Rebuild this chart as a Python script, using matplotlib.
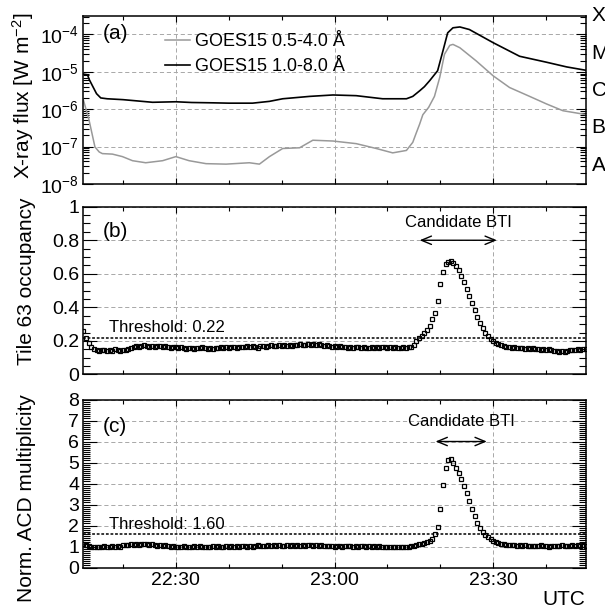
import numpy as np
import matplotlib
matplotlib.use("Agg")
import matplotlib.pyplot as plt
from matplotlib.ticker import (MultipleLocator, LogLocator, FuncFormatter,
                               LogFormatterSciNotation, NullFormatter)
from matplotlib.transforms import blended_transform_factory

plt.rcParams['font.family'] = ['Liberation Sans', 'DejaVu Sans']
plt.rcParams['mathtext.default'] = 'regular'
plt.rcParams['lines.scale_dashes'] = False

# all times in minutes after 22:00 UTC
T_MIN, T_MAX = 12.5, 107.5

# GOES15 1.0-8.0 A channel [W m^-2]
goes_long_t = [12.5, 13.3, 13.6, 14.2, 15.0, 15.8, 17.0, 20.0, 25.6, 30.0,
               33.0, 37.0, 40.0, 44.5, 47.7, 50.2, 55.3, 59.7, 64.1, 69.1,
               73.6, 74.8, 76.1, 77.0, 78.0, 79.5, 80.5, 81.4, 82.4, 83.7,
               85.5, 90.0, 95.0, 100.1, 103.9, 107.5]
goes_long = [8.7e-6, 8.3e-6, 6.3e-6, 4.3e-6, 2.6e-6, 2.0e-6, 1.9e-6, 1.8e-6, 1.53e-6, 1.58e-6,
             1.51e-6, 1.48e-6, 1.45e-6, 1.45e-6, 1.62e-6, 1.9e-6, 2.2e-6, 2.4e-6, 2.3e-6, 1.9e-6,
             1.9e-6, 2.2e-6, 3.1e-6, 4.0e-6, 5.8e-6, 1.07e-5, 3.6e-5, 1.1e-4, 1.5e-4, 1.58e-4,
             1.35e-4, 6.0e-5, 2.6e-5, 1.8e-5, 1.35e-5, 1.1e-5]

# GOES15 0.5-4.0 A channel [W m^-2]
goes_short_t = [12.5, 13.6, 14.7, 15.5, 16.1, 18.0, 19.9, 21.8, 24.3, 27.5,
                30.0, 32.5, 35.7, 39.5, 43.9, 45.8, 47.7, 50.2, 53.4, 55.9,
                59.7, 64.1, 67.9, 71.0, 73.6, 74.8, 75.4, 76.1, 76.7, 77.8,
                78.9, 79.9, 80.8, 81.8, 82.4, 83.7, 86.8, 90.0, 93.1, 96.9,
                100.1, 103.2, 107.5]
goes_short = [1.8e-6, 5.0e-7, 9.8e-8, 7.2e-8, 6.5e-8, 6.3e-8, 5.4e-8, 4.2e-8, 3.7e-8, 4.2e-8,
              5.4e-8, 4.2e-8, 3.5e-8, 3.4e-8, 3.7e-8, 3.4e-8, 5.4e-8, 8.9e-8, 9.3e-8, 1.48e-7,
              1.41e-7, 1.2e-7, 8.9e-8, 6.8e-8, 7.9e-8, 1.3e-7, 2.2e-7, 4.0e-7, 7.1e-7, 1.12e-6,
              2.2e-6, 7.1e-6, 2.95e-5, 5.1e-5, 5.4e-5, 4.4e-5, 1.95e-5, 7.8e-6, 3.8e-6, 2.2e-6,
              1.38e-6, 9.1e-7, 7.2e-7]

# LAT samples every 30 s (rows of 5 minutes, first row starts 22:12:30)
lat_t = np.arange(T_MIN, T_MAX + 0.25, 0.5)

tile63_occ = [
    0.260, 0.220, 0.190, 0.165, 0.150, 0.146, 0.142, 0.148, 0.144, 0.139,
    0.146, 0.141, 0.149, 0.143, 0.138, 0.147, 0.145, 0.150, 0.157, 0.166,
    0.171, 0.165, 0.169, 0.174, 0.168, 0.163, 0.170, 0.166, 0.172, 0.167,
    0.162, 0.168, 0.164, 0.159, 0.165, 0.161, 0.156, 0.163, 0.158, 0.154,
    0.160, 0.157, 0.152, 0.159, 0.155, 0.161, 0.156, 0.150, 0.158, 0.154,
    0.160, 0.156, 0.162, 0.158, 0.164, 0.159, 0.165, 0.161, 0.157, 0.163,
    0.166, 0.161, 0.167, 0.163, 0.169, 0.165, 0.160, 0.167, 0.171, 0.166,
    0.170, 0.174, 0.168, 0.172, 0.176, 0.170, 0.174, 0.169, 0.175, 0.172,
    0.177, 0.173, 0.179, 0.174, 0.178, 0.181, 0.175, 0.179, 0.176, 0.182,
    0.176, 0.171, 0.175, 0.168, 0.166, 0.170, 0.164, 0.167, 0.162, 0.165,
    0.160, 0.163, 0.158, 0.161, 0.165, 0.159, 0.162, 0.156, 0.160, 0.164,
    0.158, 0.162, 0.157, 0.161, 0.165, 0.160, 0.163, 0.158, 0.161, 0.159,
    0.156, 0.161, 0.158, 0.162, 0.163, 0.178, 0.200, 0.215, 0.232, 0.248,
    0.265, 0.290, 0.330, 0.365, 0.435, 0.540, 0.612, 0.656, 0.673, 0.678,
    0.666, 0.645, 0.620, 0.587, 0.550, 0.510, 0.465, 0.425, 0.385, 0.345,
    0.305, 0.276, 0.250, 0.228, 0.210, 0.197, 0.188, 0.181, 0.175, 0.170,
    0.166, 0.163, 0.160, 0.163, 0.158, 0.155, 0.159, 0.154, 0.157, 0.152,
    0.155, 0.150, 0.153, 0.148, 0.151, 0.146, 0.149, 0.144, 0.141, 0.138,
    0.136, 0.139, 0.135, 0.141, 0.146, 0.143, 0.148, 0.151, 0.147, 0.152,
    0.150,
]

acd_mult = [
    1.12, 1.06, 1.02, 0.99, 0.97, 1.00, 0.96, 0.98, 1.01, 0.97,
    0.99, 1.02, 0.98, 1.03, 1.00, 1.05, 1.08, 1.06, 1.10, 1.08,
    1.12, 1.09, 1.14, 1.11, 1.13, 1.08, 1.10, 1.06, 1.04, 1.07,
    1.02, 1.05, 1.01, 0.99, 1.03, 0.98, 1.00, 0.97, 1.01, 0.98,
    1.00, 0.97, 1.01, 0.98, 1.02, 0.99, 0.96, 1.00, 0.98, 1.02,
    0.99, 1.03, 1.00, 0.97, 1.01, 0.99, 1.03, 1.00, 1.02, 0.98,
    1.01, 1.04, 1.00, 1.03, 0.99, 1.02, 1.05, 1.01, 1.04, 1.02,
    1.05, 1.02, 1.06, 1.03, 1.07, 1.04, 1.01, 1.05, 1.03, 1.06,
    1.04, 1.07, 1.03, 1.06, 1.02, 1.05, 1.08, 1.04, 1.06, 1.03,
    1.05, 1.02, 1.04, 1.01, 1.03, 1.00, 1.04, 1.02, 0.99, 1.03,
    1.01, 1.04, 1.00, 1.02, 0.98, 1.01, 1.03, 0.99, 1.02, 1.00,
    1.03, 0.99, 1.01, 0.98, 1.00, 0.97, 0.99, 0.96, 0.98, 0.97,
    0.99, 0.97, 1.00, 0.98, 1.02, 1.04, 1.07, 1.10, 1.13, 1.17,
    1.22, 1.28, 1.38, 1.58, 1.95, 2.80, 3.95, 4.75, 5.12, 5.16,
    5.00, 4.76, 4.50, 4.22, 3.90, 3.56, 3.16, 2.80, 2.45, 2.12,
    1.88, 1.70, 1.55, 1.43, 1.34, 1.27, 1.21, 1.17, 1.14, 1.11,
    1.09, 1.07, 1.05, 1.08, 1.04, 1.06, 1.03, 1.05, 1.02, 1.04,
    1.01, 1.04, 1.02, 1.05, 1.01, 1.03, 1.00, 1.03, 1.01, 1.04,
    1.02, 1.05, 1.01, 1.04, 1.02, 1.05, 1.03, 1.06, 1.03, 1.05,
    1.04,
]

tile63_threshold = 0.22
acd_threshold = 1.60
bti_tile63 = (76.1, 90.7)
bti_acd = (79.1, 88.8)
goes_classes = ['A', 'B', 'C', 'M', 'X']


def hhmm(v, pos=None):
    m = int(round(v))
    return f"{22 + m // 60}:{m % 60:02d}"


def style_axes(ax, ylen=(10, 5)):
    ax.set_xlim(T_MIN, T_MAX)
    ax.xaxis.set_major_locator(MultipleLocator(30))
    ax.xaxis.set_minor_locator(MultipleLocator(10))
    ax.xaxis.set_major_formatter(FuncFormatter(hhmm))
    ax.tick_params(which='both', direction='in', top=True, right=True,
                   labelsize=14, width=0.8, pad=3)
    ax.tick_params(axis='x', which='major', length=4)
    ax.tick_params(axis='x', which='minor', length=3)
    ax.tick_params(axis='y', which='major', length=ylen[0])
    ax.tick_params(axis='y', which='minor', length=ylen[1])
    for s in ax.spines.values():
        s.set_linewidth(1.1)
    ax.grid(True, which='major', color='#a8a8a8', ls=(0, (3, 2)), lw=0.7)
    ax.set_axisbelow(True)


def draw_bti(ax, span, y_arrow, y_text):
    ax.annotate('', xy=(span[1], y_arrow), xytext=(span[0], y_arrow),
                arrowprops=dict(arrowstyle='<->, head_length=0.6, head_width=0.25',
                                lw=1.0, color='black', mutation_scale=12,
                                shrinkA=0, shrinkB=0))
    ax.text(0.5 * (span[0] + span[1]), y_text, 'Candidate BTI', ha='center',
            va='center', fontsize=12)


def scatter_lat(ax, values):
    ax.plot(lat_t, values, ls='none', marker='s', ms=2.4, mfc='none',
            mec='black', mew=0.9)


fig = plt.figure(figsize=(6.05, 6.15), dpi=100)
ax_a = fig.add_axes([0.1377, 0.7008, 0.8304, 0.2737])
ax_b = fig.add_axes([0.1377, 0.3911, 0.8304, 0.2728])
ax_c = fig.add_axes([0.1377, 0.0772, 0.8304, 0.2732])

# (a) GOES X-ray flux
style_axes(ax_a, ylen=(7, 4))
ax_a.set_yscale('log')
ax_a.set_ylim(1e-8, 10 ** -3.5)
ax_a.yaxis.set_major_locator(LogLocator(base=10, numticks=12))
ax_a.yaxis.set_minor_locator(LogLocator(base=10, subs=np.arange(2, 10), numticks=12))
ax_a.yaxis.set_major_formatter(LogFormatterSciNotation())
ax_a.yaxis.set_minor_formatter(NullFormatter())
ax_a.plot(goes_short_t, goes_short, color='#999999', lw=1.1, label='GOES15 0.5-4.0 Å')
ax_a.plot(goes_long_t, goes_long, color='black', lw=1.2, label='GOES15 1.0-8.0 Å')
ax_a.legend(loc='upper left', bbox_to_anchor=(0.163, 0.895), frameon=False,
            fontsize=13, borderpad=0, borderaxespad=0, handlelength=1.35,
            handletextpad=0.3, labelspacing=0.45)
ax_a.set_ylabel('X-ray flux [W m$^{-2}$]', fontsize=15)
ax_a.yaxis.set_label_coords(-0.094, 0.526)
ax_a.tick_params(labelbottom=False)
ax_a.text(0.039, 0.897, '(a)', transform=ax_a.transAxes, fontsize=15, va='center')
tr = blended_transform_factory(ax_a.transAxes, ax_a.transData)
for i, cls in enumerate(goes_classes):
    ax_a.text(1.012, 10 ** (-7.5 + i), cls, transform=tr, fontsize=15,
              ha='left', va='center', clip_on=False)

# (b) Tile 63 occupancy
style_axes(ax_b)
ax_b.set_ylim(0, 1)
ax_b.yaxis.set_major_locator(MultipleLocator(0.2))
ax_b.yaxis.set_minor_locator(MultipleLocator(0.05))
ax_b.yaxis.set_major_formatter(FuncFormatter(lambda v, p: f"{v:g}"))
scatter_lat(ax_b, tile63_occ)
ax_b.axhline(tile63_threshold, color='black', lw=1.1, ls=(0, (2, 1.3)))
ax_b.text(17.4, 0.235, f'Threshold: {tile63_threshold:.2f}', fontsize=12, va='bottom')
draw_bti(ax_b, bti_tile63, 0.8, 0.907)
ax_b.set_ylabel('Tile 63 occupancy', fontsize=15)
ax_b.yaxis.set_label_coords(-0.094, 0.554)
ax_b.tick_params(labelbottom=False)
ax_b.text(0.039, 0.851, '(b)', transform=ax_b.transAxes, fontsize=15, va='center')

# (c) normalised ACD multiplicity
style_axes(ax_c)
ax_c.set_ylim(0, 8)
ax_c.yaxis.set_major_locator(MultipleLocator(1))
ax_c.yaxis.set_minor_locator(MultipleLocator(0.1))
scatter_lat(ax_c, acd_mult)
ax_c.axhline(acd_threshold, color='black', lw=1.1, ls=(0, (2, 1.3)))
ax_c.text(17.4, 1.69, f'Threshold: {acd_threshold:.2f}', fontsize=12, va='bottom')
draw_bti(ax_c, bti_acd, 6.0, 6.95)
ax_c.set_ylabel('Norm. ACD multiplicity', fontsize=15)
ax_c.yaxis.set_label_coords(-0.094, 0.414)
ax_c.text(0.039, 0.842, '(c)', transform=ax_c.transAxes, fontsize=15, va='center')
ax_c.text(1.0, -0.193, 'UTC', transform=ax_c.transAxes, fontsize=15,
          ha='right', va='center')

fig.savefig('out.png', dpi=100)
